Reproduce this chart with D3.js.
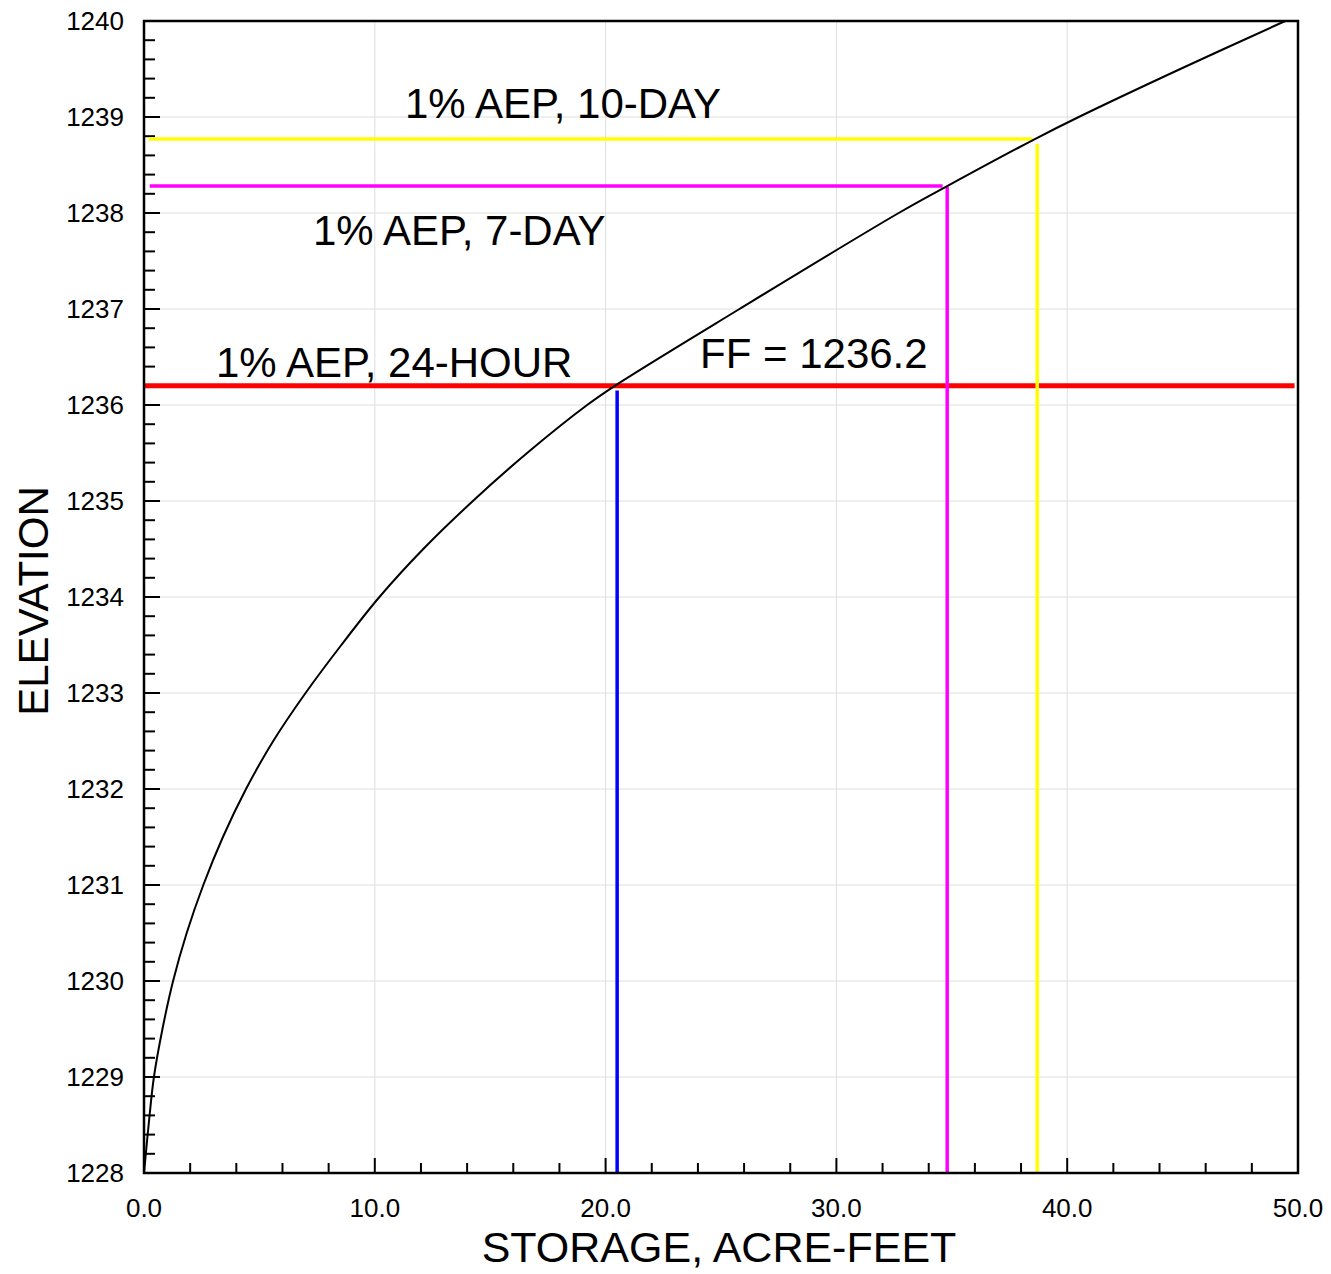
<!DOCTYPE html>
<html><head><meta charset="utf-8">
<script src="https://cdn.jsdelivr.net/npm/d3@7"></script>
<style>body{margin:0;background:#fff}svg{display:block;font-family:"Liberation Sans",Arial,sans-serif}</style>
</head><body>
<svg id="c" width="1331" height="1274"></svg>
<script>
// Elevation-storage curve
const storage = [0, 0.2, 0.43, 0.8, 1.26, 1.85, 2.57, 3.42, 4.42, 5.6, 7.0, 8.55, 10.2, 12.1, 14.25, 16.6, 19.2, 20.4, 25.8, 32.7, 34.8, 38.6, 40.5, 44.9, 49.45];
const elevation = [1228, 1228.5, 1229, 1229.5, 1230, 1230.5, 1231, 1231.5, 1232, 1232.5, 1233, 1233.5, 1234, 1234.5, 1235, 1235.5, 1236, 1236.2, 1237, 1238, 1238.28, 1238.77, 1239, 1239.5, 1240];
// Reference events
const eventNames = ["1% AEP, 24-HOUR", "1% AEP, 7-DAY", "1% AEP, 10-DAY"];
const eventElev = [1236.2, 1238.28, 1238.77];
const eventStorage = [20.5, 34.8, 38.7];
const eventColors = ["#ff0000", "#ff00ff", "#ffff00"];
const verticalColors = ["#0000ff", "#ff00ff", "#ffff00"];
const ffLabel = "FF = 1236.2";
const xTicks = [0, 10, 20, 30, 40, 50];
const yTicks = [1228, 1229, 1230, 1231, 1232, 1233, 1234, 1235, 1236, 1237, 1238, 1239, 1240];

const svg = d3.select("#c");
const L = 144, R = 1298, T = 21, B = 1173;
const x = d3.scaleLinear().domain([0, 50]).range([L, R]);
const y = d3.scaleLinear().domain([1228, 1240]).range([B, T]);

// gridlines
const g = svg.append("g");
g.selectAll(".gx").data(xTicks.slice(1, -1)).join("line")
  .attr("x1", d => x(d)).attr("x2", d => x(d)).attr("y1", T).attr("y2", B)
  .attr("stroke", "#dedede").attr("stroke-width", 1);
g.selectAll(".gy").data(yTicks.slice(1, -1)).join("line")
  .attr("x1", L).attr("x2", R).attr("y1", d => y(d)).attr("y2", d => y(d))
  .attr("stroke", "#dedede").attr("stroke-width", 1);

// minor / major ticks (inward)
const yMinor = d3.range(1228, 1240.001, 0.2);
svg.append("g").selectAll("line").data(yMinor).join("line")
  .attr("x1", L).attr("x2", (d) => L + (Math.abs(d - Math.round(d)) < 1e-6 ? 16 : 11))
  .attr("y1", d => y(d)).attr("y2", d => y(d))
  .attr("stroke", "#000").attr("stroke-width", 2);
const xMinor = d3.range(0, 50.001, 2);
svg.append("g").selectAll("line").data(xMinor).join("line")
  .attr("x1", d => x(d)).attr("x2", d => x(d))
  .attr("y1", B).attr("y2", d => B - (d % 10 === 0 ? 15 : 10))
  .attr("stroke", "#000").attr("stroke-width", 2);

// tick labels
svg.append("g").selectAll("text").data(yTicks).join("text")
  .attr("x", 124).attr("y", d => y(d) + 9).attr("text-anchor", "end")
  .attr("font-size", 26).text(d => d);
svg.append("g").selectAll("text").data(xTicks).join("text")
  .attr("x", d => x(d)).attr("y", 1217).attr("text-anchor", "middle")
  .attr("font-size", 26).text(d => d.toFixed(1));

// axis titles
svg.append("text").attr("x", 719).attr("y", 1262).attr("text-anchor", "middle")
  .attr("font-size", 43).text("STORAGE, ACRE-FEET");
svg.append("text").attr("transform", "translate(48,601) rotate(-90)").attr("text-anchor", "middle")
  .attr("font-size", 42).text("ELEVATION");

// reference lines: horizontals
const hStart = [L, x(0.25), x(0.2)];
const hEnd = [x(49.85), x(34.6), x(38.5)];
const widths = [5, 3.5, 3.5];
eventElev.forEach((e, i) => {
  svg.append("line").attr("x1", hStart[i]).attr("x2", hEnd[i])
    .attr("y1", y(e)).attr("y2", y(e))
    .attr("stroke", eventColors[i]).attr("stroke-width", widths[i]);
});
// verticals
const vTop = [1236.15, 1238.27, 1238.72];
eventStorage.forEach((s, i) => {
  svg.append("line").attr("x1", x(s)).attr("x2", x(s))
    .attr("y1", B).attr("y2", y(vTop[i]))
    .attr("stroke", verticalColors[i]).attr("stroke-width", 3.5);
});

// curve
const pts = storage.map((s, i) => [s, elevation[i]]);
svg.append("path").datum(pts)
  .attr("d", d3.line().x(d => x(d[0])).y(d => y(d[1])).curve(d3.curveCatmullRom.alpha(0.5)))
  .attr("fill", "none").attr("stroke", "#000").attr("stroke-width", 2);

// frame
svg.append("rect").attr("x", L).attr("y", T).attr("width", R - L).attr("height", B - T)
  .attr("fill", "none").attr("stroke", "#000").attr("stroke-width", 2.5);

// annotations
const ann = [
  {t: eventNames[2], x: 405, y: 118},
  {t: eventNames[1], x: 313, y: 245},
  {t: eventNames[0], x: 216, y: 377},
  {t: ffLabel, x: 700, y: 368}
];
svg.append("g").selectAll("text").data(ann).join("text")
  .attr("x", d => d.x).attr("y", d => d.y).attr("font-size", 42).text(d => d.t);
</script>
</body></html>
